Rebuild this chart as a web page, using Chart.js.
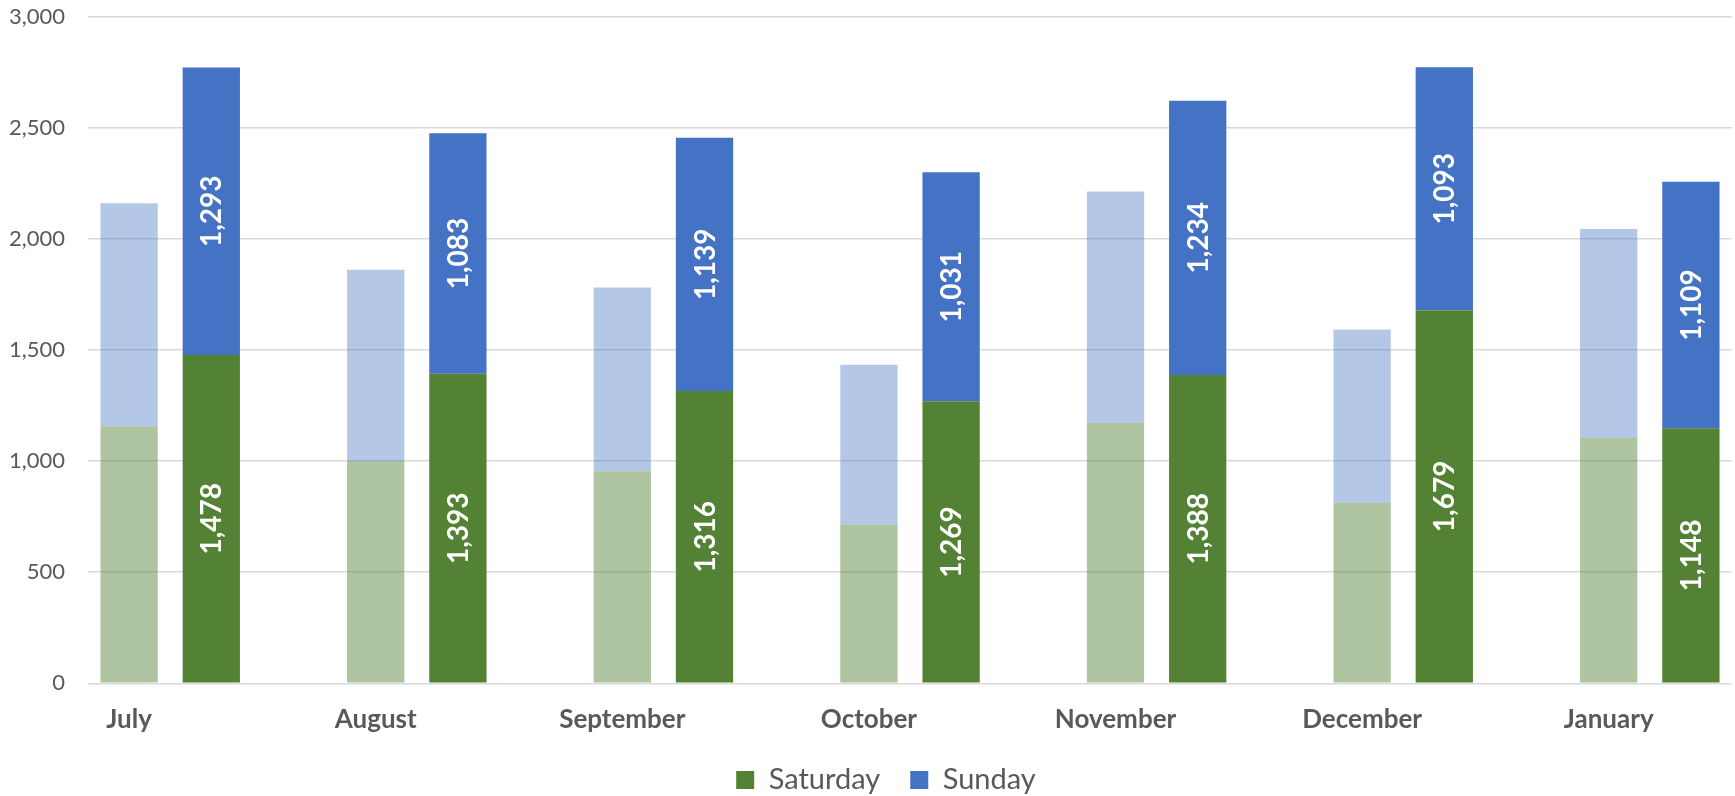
<!DOCTYPE html>
<html>
<head>
<meta charset="utf-8">
<script src="https://cdn.jsdelivr.net/npm/chart.js@4.4.1/dist/chart.umd.min.js"></script>
<style>
  html, body { margin: 0; padding: 0; background: #fff; }
  canvas { display: block; }
</style>
</head>
<body>
<canvas id="chart" width="1735" height="796"></canvas>
<script>
// Data
const months = ['July', 'August', 'September', 'October', 'November', 'December', 'January'];
const saturday = [1478, 1393, 1316, 1269, 1388, 1679, 1148];
const sunday = [1293, 1083, 1139, 1031, 1234, 1093, 1109];
const prevSaturday = [1156, 1000, 954, 713, 1173, 814, 1106];
const prevSunday = [1005, 861, 827, 721, 1040, 778, 938];
const yTicks = [0, 500, 1000, 1500, 2000, 2500, 3000];

// Colours
const GREEN = '#548235';
const BLUE = '#4472C4';
const GREEN_FADED = 'rgba(84, 130, 53, 0.47)';
const BLUE_FADED = 'rgba(68, 114, 196, 0.4)';
const TEXT = '#595959';
const FONT = 'Lato';

// Each month takes three slots: last year's bar, this year's bar, a gap
const labels = [];
const slot = { prevSat: [], prevSun: [], sat: [], sun: [] };
months.forEach((m, i) => {
    labels.push(m);
    slot.prevSat.push(prevSaturday[i]); slot.prevSun.push(prevSunday[i]);
    slot.sat.push(null); slot.sun.push(null);

    labels.push('');
    slot.prevSat.push(null); slot.prevSun.push(null);
    slot.sat.push(saturday[i]); slot.sun.push(sunday[i]);

    if (i < months.length - 1) {
        labels.push('');
        ['prevSat', 'prevSun', 'sat', 'sun'].forEach(k => slot[k].push(null));
    }
});

const fmt = n => Number(n).toLocaleString('en-US');

// Rotated value labels inside the solid bars
const barLabels = {
    id: 'barLabels',
    afterDatasetsDraw(chart) {
        const ctx = chart.ctx;
        chart.data.datasets.forEach((ds, di) => {
            if (!ds.showValues) return;
            const meta = chart.getDatasetMeta(di);
            meta.data.forEach((bar, i) => {
                const v = ds.data[i];
                if (v == null) return;
                const cy = (bar.y + bar.base) / 2;
                ctx.save();
                ctx.translate(bar.x, cy);
                ctx.rotate(-Math.PI / 2);
                ctx.fillStyle = '#ffffff';
                ctx.font = `bold 28px ${FONT}`;
                ctx.textAlign = 'center';
                ctx.textBaseline = 'middle';
                ctx.fillText(fmt(v), 0, 1);
                ctx.restore();
            });
        });
    }
};

// legend sits a bit right of the canvas centre in the original
const legendShift = {
    id: 'legendShift',
    afterLayout(chart) {
        chart.legend.left += 20;
        chart.legend.right += 20;
    }
};

const barOpts = { stack: 'all', barPercentage: 0.697, categoryPercentage: 1, borderWidth: 0 };

new Chart(document.getElementById('chart'), {
    type: 'bar',
    data: {
        labels: labels,
        datasets: [
            { label: 'Saturday', data: slot.sat, backgroundColor: GREEN, showValues: true, ...barOpts },
            { label: 'Sunday', data: slot.sun, backgroundColor: BLUE, showValues: true, ...barOpts },
            { label: 'Saturday (prev)', data: slot.prevSat, backgroundColor: GREEN_FADED, ...barOpts },
            { label: 'Sunday (prev)', data: slot.prevSun, backgroundColor: BLUE_FADED, ...barOpts }
        ]
    },
    options: {
        responsive: false,
        animation: false,
        layout: { padding: { top: 16.7, right: 3, left: 0, bottom: -8.5 } },
        scales: {
            x: {
                stacked: true,
                afterFit(scale) { scale.height = 52.2; },
                grid: { display: false, drawTicks: false },
                border: { display: false },
                ticks: {
                    autoSkip: false,
                    maxRotation: 0,
                    padding: 21,
                    color: TEXT,
                    font: { family: FONT, size: 26, weight: 'bold' }
                }
            },
            y: {
                stacked: true,
                min: 0,
                max: 3000,
                afterFit(scale) {
                    scale.width = 88;
                    scale.paddingTop = 0;
                    scale.paddingBottom = 0;
                },
                afterBuildTicks(scale) { scale.ticks = yTicks.map(v => ({ value: v })); },
                grid: { color: '#d9d9d9', lineWidth: 1.5, drawTicks: false },
                border: { display: false },
                ticks: {
                    padding: 23,
                    color: TEXT,
                    font: { family: FONT, size: 22 },
                    callback: v => fmt(v)
                }
            }
        },
        plugins: {
            tooltip: { enabled: false },
            legend: {
                position: 'bottom',
                labels: {
                    color: TEXT,
                    font: { family: FONT, size: 29 },
                    boxWidth: 18,
                    boxHeight: 18,
                    padding: 30,
                    filter: item => item.datasetIndex < 2
                }
            }
        }
    },
    plugins: [barLabels, legendShift]
});
</script>
</body>
</html>
